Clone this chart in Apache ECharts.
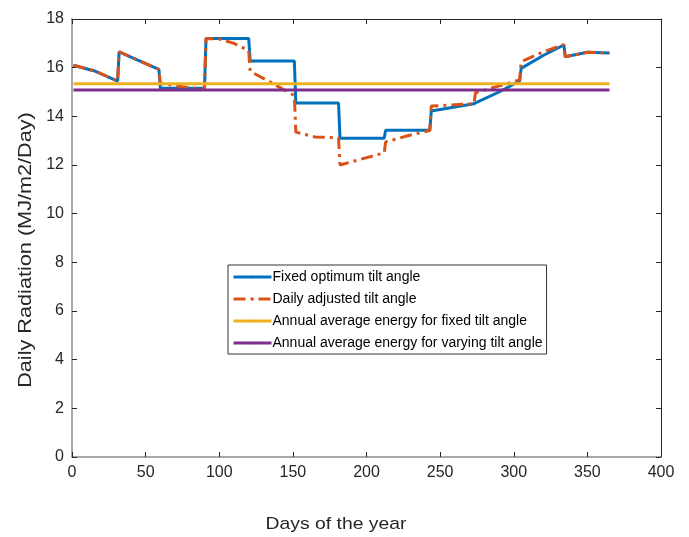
<!DOCTYPE html>
<html>
<head>
<meta charset="utf-8">
<script src="https://cdn.jsdelivr.net/npm/echarts@6/dist/echarts.min.js"></script>
<style>
  html, body { margin: 0; padding: 0; background: #ffffff; }
  #chart { width: 689px; height: 537px; }
</style>
</head>
<body>
<div id="chart"></div>
<script>
// fixed optimum tilt angle (day, value)
const fixedDays = [1, 16, 31, 32, 45, 59, 60, 90, 91, 120, 121, 151, 152, 181, 182, 212, 213, 243, 244, 273, 274, 290, 304, 305, 320, 334, 335, 350, 365]
const fixedVals = [16.1, 15.85, 15.45, 16.65, 16.3, 15.93, 15.15, 15.15, 17.2, 17.2, 16.27, 16.27, 14.55, 14.55, 13.1, 13.1, 13.43, 13.43, 14.22, 14.52, 14.55, 15.0, 15.45, 15.97, 16.5, 16.93, 16.45, 16.63, 16.6]

// daily adjusted tilt angle
const dailyDays = [1, 16, 31, 32, 45, 59, 60, 75, 90, 91, 100, 110, 120, 121, 135, 151, 152, 165, 181, 182, 197, 212, 213, 228, 243, 244, 273, 274, 290, 304, 305, 320, 334, 335, 350, 365]
const dailyVals = [16.1, 15.85, 15.45, 16.65, 16.3, 15.93, 15.35, 15.22, 15.1, 17.2, 17.18, 17.0, 16.7, 15.85, 15.4, 14.85, 13.35, 13.15, 13.12, 12.0, 12.25, 12.5, 12.95, 13.2, 13.42, 14.42, 14.52, 14.97, 15.25, 15.5, 16.24, 16.65, 16.95, 16.45, 16.63, 16.6]

// annual averages
const avgDays = [1, 365]
const avgFixed = [15.34, 15.34]
const avgVarying = [15.08, 15.08]

const seriesNames = ['Fixed optimum tilt angle', 'Daily adjusted tilt angle', 'Annual average energy for fixed tilt angle', 'Annual average energy for varying tilt angle']
const xTicks = [0, 400, 50] // min, max, interval
const yTicks = [0, 18, 2]

const pairs = (xs, ys) => xs.map((x, i) => [x, ys[i]])

const myChart = echarts.init(document.getElementById('chart'))

const fontFamily = 'Liberation Sans, Arial, sans-serif'
const axisFont = { color: '#262626', fontSize: 16, fontFamily: fontFamily }

// frame axes (top / right) only draw line + ticks
const frameX = {
  type: 'value', position: 'top', min: xTicks[0], max: xTicks[1], interval: xTicks[2],
  axisLine: { show: true, onZero: false, lineStyle: { color: '#262626', width: 1 } },
  axisTick: { show: true, inside: true, length: 5, lineStyle: { color: '#262626' } },
  axisLabel: { show: false },
  splitLine: { show: false }
}
const frameY = {
  type: 'value', position: 'right', min: yTicks[0], max: yTicks[1], interval: yTicks[2],
  axisLine: { show: true, onZero: false, lineStyle: { color: '#262626', width: 1 } },
  axisTick: { show: true, inside: true, length: 5, lineStyle: { color: '#262626' } },
  axisLabel: { show: false },
  splitLine: { show: false }
}

const options = {
  animation: false,
  backgroundColor: '#ffffff',
  grid: { left: 72, right: 28, top: 19, bottom: 80 },
  legend: {
    data: seriesNames,
    orient: 'vertical',
    left: 228,
    top: 265,
    itemWidth: 38,
    itemHeight: 3,
    itemGap: 8,
    padding: [5, 4, 4, 4],
    borderColor: '#333333',
    borderWidth: 1,
    backgroundColor: '#ffffff',
    lineStyle: { width: 3 },
    textStyle: { color: '#000000', fontSize: 14, fontFamily: fontFamily, padding: [0, 0, 0, -4] }
  },
  xAxis: [
    {
      type: 'value', min: xTicks[0], max: xTicks[1], interval: xTicks[2],
      axisLine: { onZero: false, lineStyle: { color: '#a8a8a8', width: 2 } },
      axisTick: { inside: true, length: 5, lineStyle: { color: '#262626' } },
      axisLabel: Object.assign({ margin: 8 }, axisFont),
      splitLine: { show: false }
    },
    frameX
  ],
  yAxis: [
    {
      type: 'value', min: yTicks[0], max: yTicks[1], interval: yTicks[2],
      axisLine: { show: true, onZero: false, lineStyle: { color: '#a8a8a8', width: 2 } },
      axisTick: { show: true, inside: true, length: 5, lineStyle: { color: '#262626' } },
      axisLabel: Object.assign({ margin: 8 }, axisFont),
      splitLine: { show: false }
    },
    frameY
  ],
  graphic: [
    {
      type: 'text',
      x: 336, y: 524, scaleX: 1.14,
      style: { text: 'Days of the year', align: 'center', verticalAlign: 'middle', fill: '#262626', font: '17px ' + fontFamily }
    },
    {
      type: 'text',
      x: 26, y: 250, rotation: Math.PI / 2, scaleX: 1.14,
      style: { text: 'Daily Radiation (MJ/m2/Day)', align: 'center', verticalAlign: 'middle', fill: '#262626', font: '19px ' + fontFamily }
    }
  ],
  series: [
    {
      name: seriesNames[0], type: 'line', symbol: 'none',
      data: pairs(fixedDays, fixedVals),
      itemStyle: { color: '#0072BD' },
      lineStyle: { color: '#0072BD', width: 3 }
    },
    {
      name: seriesNames[1], type: 'line', symbol: 'none',
      data: pairs(dailyDays, dailyVals),
      itemStyle: { color: '#D95319' },
      lineStyle: { color: '#D95319', width: 3, type: [12, 5, 3, 5] }
    },
    {
      name: seriesNames[2], type: 'line', symbol: 'none',
      data: pairs(avgDays, avgFixed),
      itemStyle: { color: '#EDB120' },
      lineStyle: { color: '#EDB120', width: 3 }
    },
    {
      name: seriesNames[3], type: 'line', symbol: 'none',
      data: pairs(avgDays, avgVarying),
      itemStyle: { color: '#7E2F8E' },
      lineStyle: { color: '#7E2F8E', width: 3 }
    }
  ]
}
myChart.setOption(options)
</script>
</body>
</html>
